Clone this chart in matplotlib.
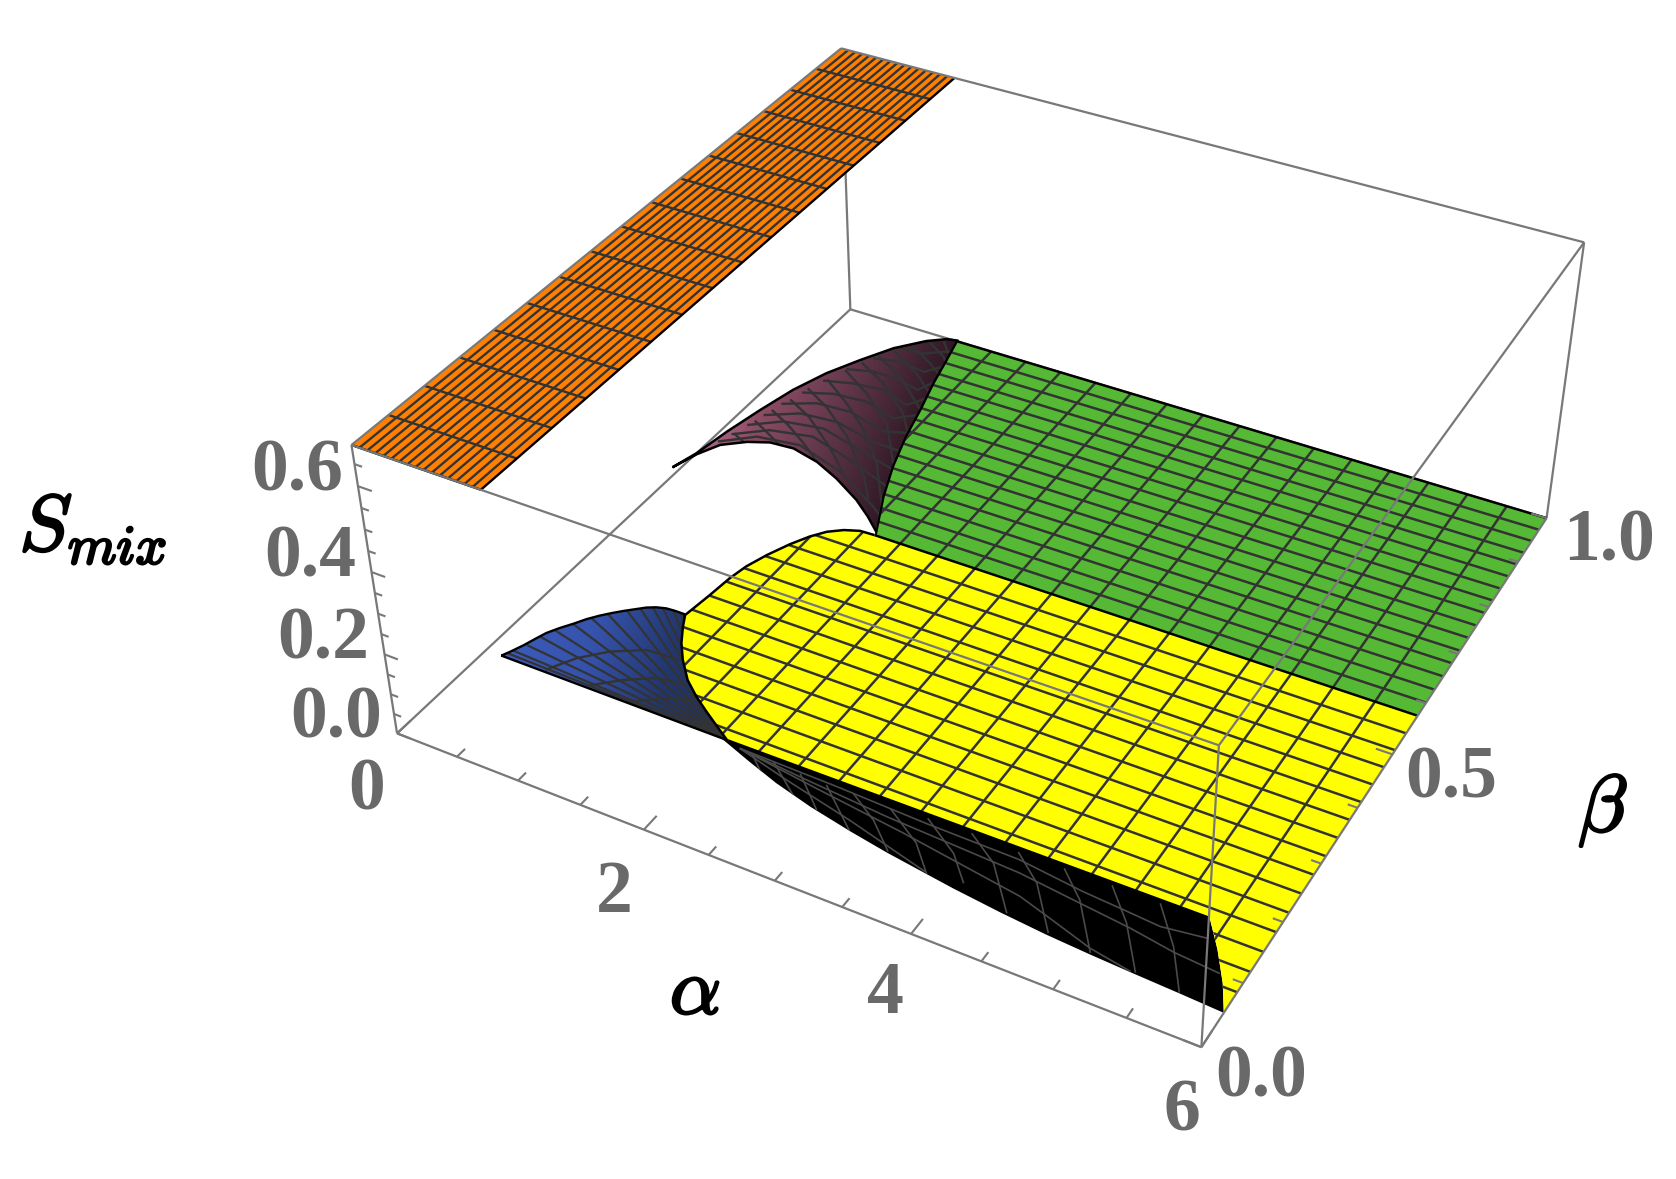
import numpy as np
import matplotlib
matplotlib.use('Agg')
import matplotlib.pyplot as plt
import matplotlib.patheffects as pe
from matplotlib.colors import LinearSegmentedColormap
from matplotlib.patches import Polygon
from mpl_toolkits.mplot3d import proj3d
from mpl_toolkits.mplot3d.art3d import Poly3DCollection

# axis ranges and ticks
alpha_range = [0, 6]
beta_range = [0, 1]
s_top = 0.693
alpha_major = [0, 2, 4, 6]
alpha_minor = [0.5, 1, 1.5, 2.5, 3, 3.5, 4.5, 5, 5.5]
beta_major = [0.0, 0.5, 1.0]
beta_minor = [0.1, 0.2, 0.3, 0.4, 0.6, 0.7, 0.8, 0.9]
s_major = [0.0, 0.2, 0.4, 0.6]
s_minor = [0.05, 0.1, 0.15, 0.25, 0.3, 0.35, 0.45, 0.5, 0.55, 0.65]
alpha_labels = ['0', '2', '4', '6']
beta_labels = ['0.0', '0.5', '1.0']
s_labels = ['0.0', '0.2', '0.4', '0.6']

# mesh positions of the flat sheets
orange_alpha = [0.0625, 0.125, 0.1875, 0.25, 0.3125, 0.375, 0.4375, 0.5, 0.5625, 0.625, 0.6875, 0.75, 0.8125, 0.875, 0.9375]
orange_beta = [0.0625, 0.125, 0.1875, 0.25, 0.3125, 0.375, 0.4375, 0.5, 0.5625, 0.625, 0.6875, 0.75, 0.8125, 0.875, 0.9375]
sheet_alpha = [1.3125, 1.625, 1.9375, 2.25, 2.5625, 2.875, 3.1875, 3.5, 3.8125, 4.125, 4.4375, 4.75, 5.0625, 5.375, 5.6875]
green_beta = [0.601, 0.627, 0.654, 0.681, 0.707, 0.734, 0.760, 0.787, 0.814, 0.840, 0.867, 0.894, 0.920, 0.947, 0.973]
yellow_beta = [0.0855, 0.118, 0.1505, 0.183, 0.2155, 0.248, 0.2805, 0.313, 0.3455, 0.378, 0.4105, 0.443, 0.4755, 0.508, 0.5405]

# outlines as (alpha, beta), on the floor of the box
orange_outline = [(0, 0), (1, 0), (1, 1), (0, 1)]
purple_upper = [(-0.06, 0.576), (0.00, 0.616), (0.05, 0.675), (0.12, 0.737), (0.20, 0.797), (0.31, 0.851),
                (0.45, 0.899), (0.60, 0.945), (0.78, 0.981), (0.91, 0.998), (1.00, 1.002)]
purple_right = [(1.06, 0.954), (1.13, 0.897), (1.22, 0.836), (1.30, 0.775), (1.41, 0.710), (1.54, 0.649), (1.73, 0.579)]
purple_lower = [(1.56, 0.604), (1.38, 0.627), (1.11, 0.654), (0.87, 0.673), (0.62, 0.684), (0.42, 0.681),
                (0.26, 0.668), (0.10, 0.646), (0.01, 0.615), (-0.06, 0.576)]
green_outline = [(1.00, 1.00), (1.06, 0.954), (1.13, 0.897), (1.22, 0.836), (1.30, 0.775), (1.41, 0.710),
                 (1.54, 0.649), (1.73, 0.575), (6, 0.575), (6, 1)]
blue_outline = [(0.13, 0.168), (0.16, 0.179), (0.20, 0.196), (0.23, 0.212), (0.26, 0.227), (0.31, 0.242),
                (0.37, 0.257), (0.42, 0.271), (0.48, 0.284), (0.54, 0.295), (0.60, 0.305), (0.66, 0.314),
                (0.72, 0.323), (0.78, 0.329), (0.85, 0.333), (0.92, 0.334), (1.00, 0.334), (1.30, 0.271), (2.00, 0.167)]
black_outline = [(1.95, 0.167), (5.58, 0.169), (5.74, 0.131), (5.89, 0.090), (6.00, 0.053), (5.70, 0.056),
                 (5.36, 0.059), (5.06, 0.062), (4.74, 0.066), (4.40, 0.072), (4.03, 0.080), (3.50, 0.094),
                 (3.19, 0.104), (2.84, 0.117), (2.52, 0.132), (2.25, 0.148)]
yellow_edge = [(1.72, 0.575), (1.60, 0.574), (1.49, 0.566), (1.39, 0.553), (1.31, 0.535), (1.23, 0.510),
               (1.15, 0.478), (1.09, 0.447), (1.06, 0.418), (1.04, 0.379), (1.02, 0.348), (1.01, 0.333),
               (1.07, 0.313), (1.16, 0.287), (1.27, 0.262), (1.42, 0.234), (1.57, 0.214), (1.72, 0.197),
               (1.85, 0.183), (2.00, 0.167), (5.58, 0.169)]
yellow_end = [(5.74, 0.131), (5.89, 0.090), (6.00, 0.053), (6.00, 0.575)]

# curved mesh lines
purple_ribs = [
    [(0.11, 0.676), (0.26, 0.664)],
    [(0.16, 0.713), (0.34, 0.697), (0.50, 0.682)],
    [(0.20, 0.744), (0.42, 0.725), (0.65, 0.700), (0.87, 0.673)],
    [(0.25, 0.776), (0.50, 0.754), (0.85, 0.709), (1.12, 0.668)],
    [(0.29, 0.809), (0.55, 0.784), (0.90, 0.739), (1.28, 0.674), (1.46, 0.634)],
    [(0.36, 0.839), (0.67, 0.803), (0.97, 0.762), (1.28, 0.706), (1.59, 0.630)],
    [(0.42, 0.869), (0.73, 0.836), (1.08, 0.789), (1.39, 0.716)],
    [(0.48, 0.895), (0.78, 0.866), (1.12, 0.819), (1.32, 0.776)],
    [(0.55, 0.919), (0.85, 0.890), (1.22, 0.836)],
    [(0.62, 0.940), (0.94, 0.907), (1.17, 0.875)],
    [(0.70, 0.963), (0.96, 0.937), (1.09, 0.921)],
    [(0.79, 0.983), (1.01, 0.959), (1.08, 0.947)],
    [(0.89, 0.995), (1.02, 0.969)],
]
purple_arcs = [
    [(0.06, 0.651), (0.29, 0.684), (0.64, 0.694), (1.09, 0.669), (1.53, 0.625), (1.65, 0.611)],
    [(0.10, 0.673), (0.33, 0.704), (0.67, 0.718), (1.11, 0.695), (1.50, 0.669)],
    [(0.14, 0.700), (0.36, 0.729), (0.68, 0.740), (1.11, 0.720), (1.43, 0.704)],
    [(0.18, 0.729), (0.42, 0.755), (0.73, 0.761), (1.11, 0.745), (1.37, 0.743)],
    [(0.22, 0.762), (0.46, 0.785), (0.75, 0.789), (1.11, 0.771), (1.30, 0.784)],
    [(0.28, 0.797), (0.51, 0.814), (0.79, 0.819), (1.09, 0.803), (1.24, 0.825)],
    [(0.34, 0.834), (0.57, 0.847), (0.83, 0.853), (1.09, 0.837), (1.18, 0.863)],
    [(0.42, 0.872), (0.63, 0.884), (0.87, 0.883), (1.06, 0.874), (1.13, 0.902)],
    [(0.53, 0.911), (0.74, 0.921), (0.98, 0.915), (1.08, 0.938)],
    [(0.65, 0.949), (0.85, 0.953), (1.02, 0.974)],
]
blue_apex = (2.00, 0.167)
blue_fan = [(0.15, 0.175), (0.17, 0.182), (0.22, 0.198), (0.25, 0.218), (0.30, 0.236), (0.37, 0.256), (0.45, 0.275),
            (0.52, 0.291), (0.62, 0.307), (0.69, 0.318), (0.76, 0.327), (0.83, 0.331), (0.91, 0.333), (0.97, 0.334)]
blue_arcs = [
    [(0.49, 0.171), (0.61, 0.206), (0.77, 0.234), (0.99, 0.257), (1.25, 0.260)],
    [(0.86, 0.173), (1.03, 0.199), (1.22, 0.220), (1.44, 0.226)],
    [(1.22, 0.172), (1.38, 0.194), (1.57, 0.207)],
]
black_ribs = [
    [(2.22, 0.161), (2.41, 0.134)],
    [(2.39, 0.161), (2.68, 0.124)],
    [(2.61, 0.158), (2.89, 0.116)],
    [(2.82, 0.156), (3.19, 0.103)],
    [(3.02, 0.158), (3.27, 0.131), (3.50, 0.096)],
    [(3.31, 0.156), (3.62, 0.122), (3.83, 0.084)],
    [(3.57, 0.162), (3.88, 0.127), (4.07, 0.092)],
    [(3.89, 0.164), (4.15, 0.134), (4.44, 0.074)],
    [(4.24, 0.162), (4.48, 0.129), (4.75, 0.069)],
    [(4.57, 0.163), (4.79, 0.128), (5.06, 0.064)],
    [(4.91, 0.164), (5.14, 0.121), (5.38, 0.061)],
    [(5.25, 0.164), (5.49, 0.113), (5.69, 0.057)],
]
black_long = [
    [(2.12, 0.162), (2.81, 0.145), (3.50, 0.129), (4.44, 0.103), (4.68, 0.090), (5.04, 0.070), (5.35, 0.060)],
    [(2.12, 0.162), (2.65, 0.153), (3.33, 0.143), (4.34, 0.134), (4.80, 0.124), (5.18, 0.116), (5.51, 0.106), (5.84, 0.101)],
    [(2.12, 0.162), (2.89, 0.159), (3.59, 0.154), (4.28, 0.152), (4.77, 0.141), (5.07, 0.137), (5.34, 0.133), (5.65, 0.141)],
    [(2.12, 0.162), (2.56, 0.142), (3.13, 0.119), (3.80, 0.088)],
]

# colours of the curved sheets, light end first
purple_stops = ['#b56a8c', '#8a4a62', '#6a3a50', '#4a2838', '#2a1520']
blue_stops = ['#3a5abc', '#3452ab', '#20356e', '#1a2a55']

GREY = '#787878'
MESH = '#333333'
TEXT = '#696969'

plt.rcParams['mathtext.fontset'] = 'cm'
W, H = 1676, 1179
fig = plt.figure(figsize=(16.76, 11.79), dpi=100)
ax = fig.add_axes([0.1, 0.1, 0.8, 0.8], projection='3d', computed_zorder=False)
ax.set_xlim(*alpha_range)
ax.set_ylim(*beta_range)
ax.set_zlim(0, s_top)
# camera fitted on the eight corners of the box
ax.view_init(elev=36.2119, azim=-61.6109, roll=0.0063)
ax.set_proj_type('persp', focal_length=0.4397)
ax.set_box_aspect((1.0005, 1, 0.3989))
ax.set_axis_off()
M = ax.get_proj()

scale = 6752.443
vl = ax.viewLim
left = 998.5 + scale * vl.x0
bottom = 694.41 + scale * vl.y0
ax.set_position([left / W, bottom / H, scale * vl.width / W, scale * vl.height / H])


def clip_patch(outline, z=0.0):
    a, b = zip(*outline)
    x, y, _ = proj3d.proj_transform(np.array(a), np.array(b), np.full(len(a), z), M)
    return Polygon(np.c_[x, y], closed=True, transform=ax.transData)


def clipped(artist, patch):
    artist.set_clip_box(None)
    artist.set_clip_path(patch)


def line3(a, b, z, color, lw, zorder, clip=None):
    ln, = ax.plot(a, b, z, color=color, lw=lw, zorder=zorder, solid_capstyle='butt', clip_on=clip is not None)
    if clip is not None:
        clipped(ln, clip)
    return ln


def polyline(pts, color, lw, zorder, clip=None, z=0.0):
    a, b = zip(*pts)
    ln = line3(a, b, [z] * len(a), color, lw, zorder, clip)
    ln.set_solid_joinstyle('round')


def flat_sheet(outline, color, zorder, z=0.0):
    verts = [[(a, b, z) for a, b in outline]]
    coll = Poly3DCollection(verts, facecolors=color, edgecolors='none', zorder=zorder)
    ax.add_collection3d(coll)
    coll.set_clip_on(False)


def mesh_grid(alphas, betas, clip, zorder, z=0.0, lw=1.8):
    for a in alphas:
        line3([a, a], [-0.1, 1.1], [z, z], MESH, lw, zorder, clip)
    for b in betas:
        line3([-0.2, 6.2], [b, b], [z, z], MESH, lw, zorder, clip)


def shaded_sheet(outline, stops, tilt, t0, t1, beta_lo, beta_hi, zorder):
    # thin oblique strips, cut to the outline
    cmap = LinearSegmentedColormap.from_list('sheet', stops)
    ts = np.linspace(t0, t1, 121)
    polys = [[(p - tilt * beta_lo, beta_lo, 0), (q - tilt * beta_lo, beta_lo, 0),
              (q - tilt * beta_hi, beta_hi, 0), (p - tilt * beta_hi, beta_hi, 0)] for p, q in zip(ts[:-1], ts[1:])]
    cols = cmap(np.linspace(0, 1, len(polys)))
    coll = Poly3DCollection(polys, facecolors=cols, edgecolors=cols, linewidths=0.6, zorder=zorder, zsort='min')
    ax.add_collection3d(coll)
    clipped(coll, clip_patch(outline))


# back of the box
line3([0, 0], [0, 1], [0, 0], GREY, 1.6, 1)
line3([0, 6], [1, 1], [0, 0], GREY, 1.6, 1)
line3([0, 0], [1, 1], [0, s_top], GREY, 1.6, 1)
line3([6, 6], [1, 1], [0, s_top], GREY, 1.6, 1)

# orange sheet on the ceiling
flat_sheet(orange_outline, '#ff8000', 2, z=s_top)
orange_clip = clip_patch(orange_outline, s_top)
mesh_grid(orange_alpha, orange_beta, orange_clip, 2.1, z=s_top, lw=1.7)
polyline([(1, 0), (1, 1)], 'black', 1.7, 2.2, z=s_top)
polyline([(0, 0), (1, 0)], 'black', 1.7, 2.2, z=s_top)

# purple sheet
purple_outline = purple_upper + purple_right + purple_lower
shaded_sheet(purple_outline, purple_stops, 1.74, 1.0, 2.78, 0.5, 1.05, 3)
purple_clip = clip_patch(purple_outline)
for pts in purple_ribs + purple_arcs:
    polyline(pts, MESH, 1.7, 3.1, purple_clip)
polyline(purple_outline, 'black', 1.8, 3.2)

# green sheet
flat_sheet(green_outline, '#55b935', 4)
green_clip = clip_patch(green_outline)
mesh_grid(sheet_alpha, green_beta, green_clip, 4.1)
polyline(green_outline[:8], 'black', 1.4, 4.2)
polyline([(1, 1), (6, 1)], 'black', 1.8, 4.2)

# blue sheet
shaded_sheet(blue_outline, blue_stops, 2.5, 0.55, 2.5, 0.1, 0.4, 5)
blue_clip = clip_patch(blue_outline)
for pts in blue_fan:
    polyline([pts, blue_apex], MESH, 1.6, 5.1, blue_clip)
for pts in blue_arcs:
    polyline(pts, MESH, 1.7, 5.1, blue_clip)
polyline(blue_outline + blue_outline[:1], 'black', 1.7, 5.2)

# black sheet under the yellow one
flat_sheet(black_outline, 'black', 6)
black_clip = clip_patch(black_outline)
for pts in black_ribs + black_long:
    polyline(pts, '#4a4a4a', 1.2, 6.1, black_clip)

# yellow sheet
yellow_outline = yellow_edge + yellow_end
flat_sheet(yellow_outline, '#ffff00', 7)
yellow_clip = clip_patch(yellow_outline)
mesh_grid(sheet_alpha, yellow_beta, yellow_clip, 7.1)
polyline(yellow_edge, 'black', 1.8, 7.2)
polyline([(1.72, 0.575), (6, 0.575)], 'black', 1.8, 7.2)

# front of the box
line3([0, 6], [0, 0], [0, 0], GREY, 1.6, 8)
line3([6, 6], [0, 1], [0, 0], GREY, 1.6, 8)
line3([0, 0], [0, 0], [0, s_top], GREY, 1.6, 8)
line3([6, 6], [0, 0], [0, s_top], GREY, 1.6, 8)
line3([0, 6], [0, 0], [s_top, s_top], GREY, 1.6, 8)
line3([0, 0], [0, 1], [s_top, s_top], GREY, 1.6, 8)
line3([0, 6], [1, 1], [s_top, s_top], GREY, 1.6, 8)
line3([6, 6], [0, 1], [s_top, s_top], GREY, 1.6, 8)

# ticks
for ticks, size in ((alpha_major, 0.025), (alpha_minor, 0.015)):
    for a in ticks:
        line3([a, a], [0, size], [0, 0], GREY, 1.5, 8)
for ticks, size in ((beta_major, 0.12), (beta_minor, 0.07)):
    for b in ticks:
        line3([6, 6 - size], [b, b], [0, 0], GREY, 1.5, 8)
for ticks, size in ((s_major, 0.11), (s_minor, 0.06)):
    for s in ticks:
        line3([0, size], [0, 0], [s, s], GREY, 1.5, 8)


def tick_label(a, b, s, text, dx, dy):
    x, y, _ = proj3d.proj_transform(a, b, s, M)
    ax.annotate(text, (x, y), xytext=(dx, dy), textcoords='offset pixels', ha='center', va='center',
                annotation_clip=False, fontsize=53, color=TEXT, family='Liberation Serif', weight='bold', zorder=9)


for a, text, off in zip(alpha_major, alpha_labels, [(-30, -58), (-30, -64), (-26, -61), (-20, -65)]):
    tick_label(a, 0, 0, text, *off)
for b, text, off in zip(beta_major, beta_labels, [(60, -31), (59, -25), (62, -24)]):
    tick_label(6, b, 0, text, *off)
for s, text in zip(s_major, s_labels):
    tick_label(0, 0, s, text, -61, 14)

# axis names
stroke = [pe.withStroke(linewidth=1.8, foreground='black')]
fig.text(93 / W, 1 - 529 / H, r'$S_{mix}$', fontsize=57, ha='center', va='center', path_effects=stroke)
fig.text(695 / W, 1 - 992 / H, r'$\alpha$', fontsize=58, ha='center', va='center', path_effects=stroke)
fig.text(1603 / W, 1 - 810 / H, r'$\beta$', fontsize=58, ha='center', va='center', path_effects=stroke)

fig.savefig('out.png', dpi=100, facecolor='white')
